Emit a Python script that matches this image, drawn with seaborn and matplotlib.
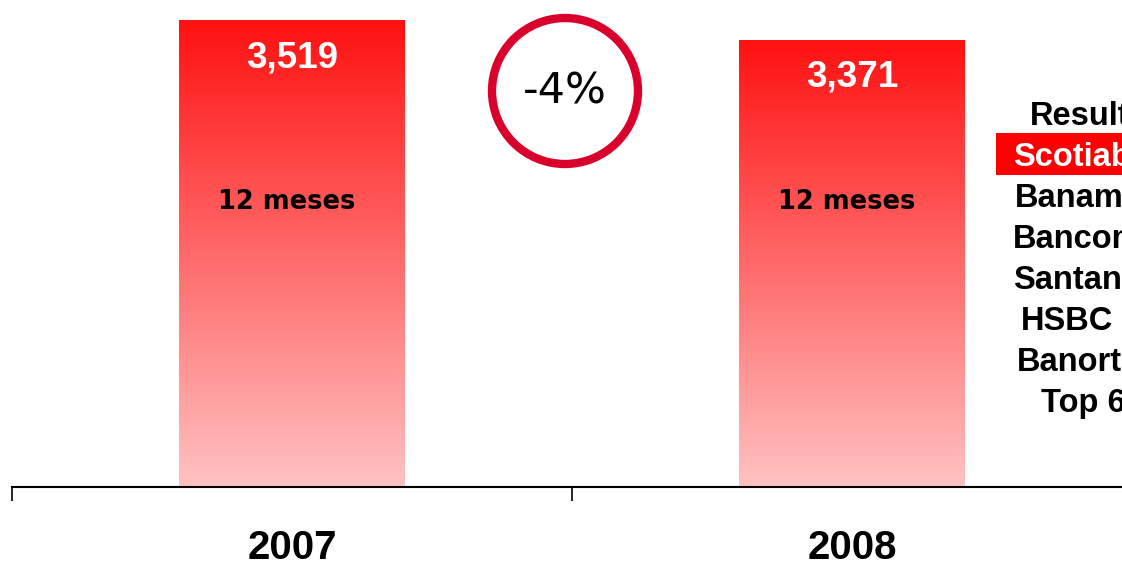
import matplotlib
matplotlib.use("Agg")
import matplotlib.pyplot as plt
import numpy as np
import pandas as pd
import seaborn as sns
from matplotlib.colors import LinearSegmentedColormap
from matplotlib.patches import Ellipse, Rectangle

years = ["2007", "2008"]
values = [3519, 3371]
value_labels = ["3,519", "3,371"]
period_labels = ["12 meses", "12 meses"]
change_label = "-4%"
ranking = ["Resultados", "Scotiabank", "Banamex", "Bancomer",
           "Santander", "HSBC", "Banorte", "Top 6"]
ranking_x = [1030, 1013, 1015, 1013, 1013, 1021, 1017, 1041]

df = pd.DataFrame({"year": years, "value": values})

sns.set_theme(style="white")
plt.rcParams["font.family"] = ["Liberation Sans", "DejaVu Sans"]

W, H = 1122, 566
fig = plt.figure(figsize=(W / 100, H / 100), dpi=100)
ax = fig.add_axes([12 / W, 79 / H, 1120 / W, 487 / H])

sns.barplot(data=df, x="year", y="value", color="#ff3030", width=0.402,
            saturation=1, ax=ax)

# vertical red -> pink gradient inside each bar
grad_cmap = LinearSegmentedColormap.from_list("bar", ["#ffc2c2", "#ff1111"])
gradient = np.linspace(0, 1, 256).reshape(-1, 1)
for patch in ax.patches:
    x0, y0 = patch.get_x(), patch.get_y()
    w, h = patch.get_width(), patch.get_height()
    im = ax.imshow(gradient, cmap=grad_cmap, aspect="auto", origin="lower",
                   extent=[x0, x0 + w, y0, y0 + h], zorder=2)
    im.set_clip_path(patch)
    patch.set_facecolor("none")
    patch.set_edgecolor("none")
ax.set_xlim(-0.5, 1.5)
ax.set_ylim(0, 3670)

for i, (v, lab, per) in enumerate(zip(values, value_labels, period_labels)):
    ax.annotate(lab, (i, v), xytext=(0, -27), textcoords="offset points",
                ha="center", va="center", color="white", fontsize=26.5,
                fontweight="bold", zorder=3)
    ax.annotate(per, (i, 2150), xytext=(-4, 0), textcoords="offset points",
                ha="center", va="center", color="black", fontsize=18.5,
                fontweight="bold", family=["DejaVu Sans"], zorder=3)

# axis styling
for side in ["left", "right", "top"]:
    ax.spines[side].set_visible(False)
ax.spines["bottom"].set_color("black")
ax.spines["bottom"].set_linewidth(1.5)
ax.set_yticks([])
ax.set_xlabel("")
ax.set_ylabel("")
ax.set_xticks([-0.5, 0.5, 1.5], minor=True)
ax.tick_params(axis="x", which="minor", bottom=True, length=10, width=1.2,
               color="black", direction="out")
ax.tick_params(axis="x", which="major", length=0, pad=30.5)
for t in ax.get_xticklabels():
    t.set_fontsize(29)
    t.set_fontweight("bold")
    t.set_color("black")

# change circle
fig.add_artist(Ellipse((565 / W, 1 - 91 / H), 146 / W, 146 / H,
                       transform=fig.transFigure, facecolor="none",
                       edgecolor="#d9002b", linewidth=6))
fig.text(565 / W, 1 - 91 / H, change_label, ha="center", va="center",
         fontsize=31, color="black", family=["DejaVu Sans"])

# ranking list on the right (cut at the figure edge, as in the source)
fig.add_artist(Rectangle((996 / W, 1 - 175 / H), 140 / W, 42 / H,
                         transform=fig.transFigure, facecolor="#ff0000",
                         edgecolor="none"))
for k, (name, px) in enumerate(zip(ranking, ranking_x)):
    cy = 113 + 41 * k
    fig.text(px / W, 1 - (cy + 12) / H, name, ha="left", va="baseline",
             fontsize=23.5, fontweight="bold",
             color="white" if name == "Scotiabank" else "black")

fig.savefig("out.png", dpi=100)
